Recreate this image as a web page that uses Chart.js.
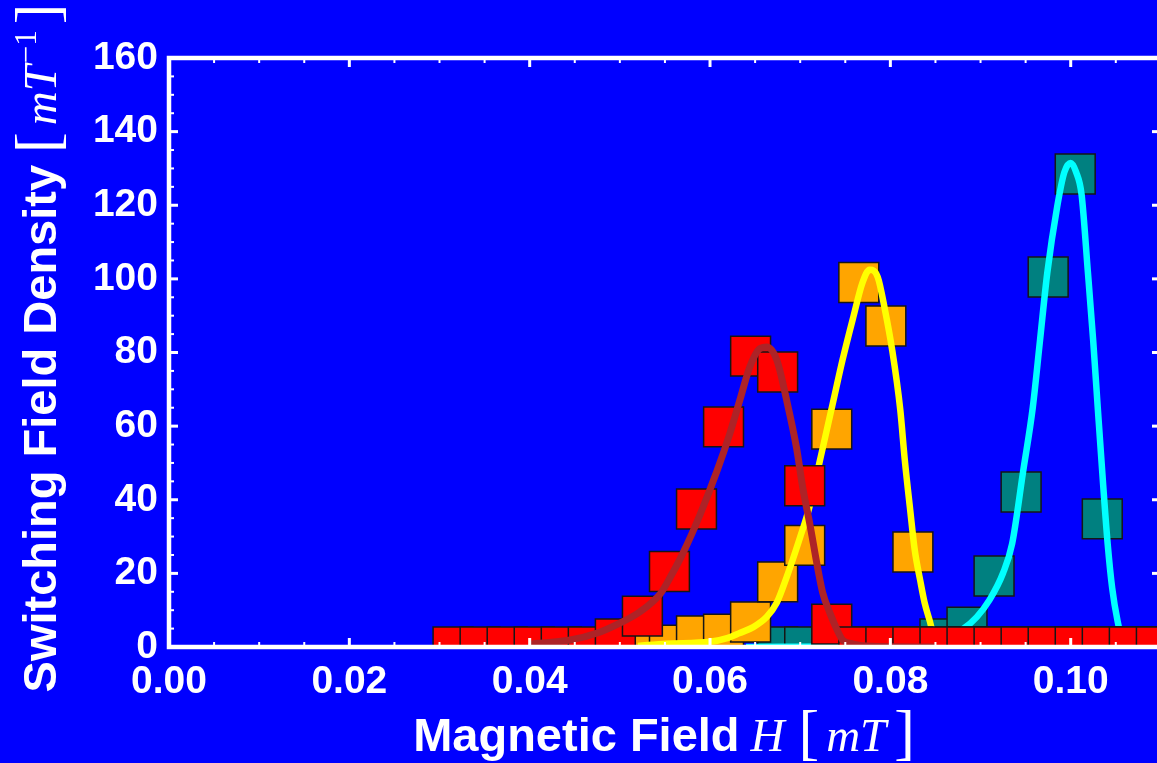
<!DOCTYPE html>
<html>
<head>
<meta charset="utf-8">
<title>Switching field density</title>
<script src="https://cdn.jsdelivr.net/npm/chart.js@4.4.1/dist/chart.umd.min.js"></script>
<style>
  html, body { margin: 0; padding: 0; background: #0000ff; overflow: hidden; }
  #wrap { width: 1157px; height: 763px; }
</style>
</head>
<body>
<div id="wrap"><canvas id="sfd" width="1157" height="763"></canvas></div>
<script>
// histogram bin centres (mT), shared by all three samples
const binH = [0.0315, 0.0345, 0.0375, 0.0405, 0.0435, 0.0465, 0.0495, 0.0525, 0.0555,
              0.0585, 0.0615, 0.0645, 0.0675, 0.0705, 0.0735, 0.0765, 0.0795, 0.0825,
              0.0855, 0.0885, 0.0915, 0.0945, 0.0975, 0.1005, 0.1035, 0.1065, 0.1095];

// measured switching field density per bin (null = no bin for that sample)
const redDensity    = [0, 0, 0, 0, 0, 0, 2.2, 8.4, 20.5, 37.5, 59.8, 79, 74.7, 43.8, 6.2,
                       0, 0, 0, 0, 0, 0, 0, 0, 0, 0, 0, 0];
const orangeDensity = [null, null, null, null, null, null, null, 0, 0.5, 3, 3.5, 6.8, 17.7,
                       27.6, 59.2, 99, 87.2, 25.8, 0, 0, 0, 0, 0, 0, 0, 0, 0];
const tealDensity   = [null, null, null, null, null, null, null, null, null, null, null, null,
                       0, 0, 0, 0, 0, 0, 2.2, 5.4, 19.3, 42.1, 100.5, 128.5, 34.8, 0, 0];

// fitted distributions
const redFitH = [0.0400, 0.0445, 0.0475, 0.0500, 0.0522, 0.0545, 0.0556, 0.0570, 0.0589, 0.0608,
                 0.0622, 0.0633, 0.0644, 0.0655, 0.0663, 0.0674, 0.0685, 0.0696, 0.0703, 0.0711,
                 0.0719, 0.0725, 0.0733, 0.0741, 0.0747, 0.0759, 0.0780, 0.0850];
const redFitD = [0.8, 1.9, 3.8, 6.5, 9.5, 14.5, 19, 25.5, 36, 48, 58, 67, 76, 81, 81.5, 78, 67,
                 54, 43, 33, 22, 14.7, 9.2, 4.6, 1.9, 0.8, 0.2, 0];

const orangeFitH = [0.0520, 0.0552, 0.0600, 0.0619, 0.0633, 0.0648, 0.0663, 0.0674, 0.0685, 0.0700,
                    0.0710, 0.0722, 0.0736, 0.0747, 0.0759, 0.0769, 0.0777, 0.0786, 0.0794, 0.0802,
                    0.0811, 0.0816, 0.0822, 0.0827, 0.0833, 0.0838, 0.0844, 0.0849, 0.0855, 0.0900];
const orangeFitD = [0.3, 0.9, 1.4, 2.4, 3.8, 5.4, 8.2, 12, 19, 29.9, 37.8, 50.8, 66, 78, 89.7, 98.9,
                    102.5, 100.5, 91.6, 80.7, 64.4, 50.8, 37.2, 26.4, 18.2, 12, 6.8, 1.9, 0.3, 0];

const tealFitH = [0.0640, 0.0750, 0.0820, 0.0860, 0.0881, 0.0896, 0.0910, 0.0925, 0.0935, 0.0947,
                  0.0958, 0.0966, 0.0974, 0.0985, 0.0993, 0.1000, 0.1006, 0.1012, 0.1019, 0.1025,
                  0.1030, 0.1036, 0.1041, 0.1046, 0.1052, 0.1057, 0.1062, 0.1075];
const tealFitD = [0, 0.3, 1, 2.5, 5, 8.2, 12.8, 20.1, 28, 47.3, 65.2, 83.4, 101.6, 119.6, 129,
                  131.5, 129, 123, 102, 83, 65, 44, 28, 16, 7, 2, 0.5, 0];

const xTickValues = [0, 0.02, 0.04, 0.06, 0.08, 0.10];
const xTickLabels = ['0.00', '0.02', '0.04', '0.06', '0.08', '0.10'];
const yTickValues = [0, 20, 40, 60, 80, 100, 120, 140, 160];
const yTickLabels = ['0', '20', '40', '60', '80', '100', '120', '140', '160'];

const SANS = '"Liberation Sans", Arial, sans-serif';
const SERIF = '"Liberation Serif", "Times New Roman", serif';

function points(xs, ys) {
    const out = [];
    xs.forEach((x, i) => { if (ys[i] !== null) out.push({ x: x, y: ys[i] }); });
    return out;
}

function histogram(label, xs, ys, color, order) {
    return {
        label: label,
        data: points(xs, ys),
        order: order,
        showLine: false,
        pointStyle: 'rect',
        pointRadius: 28.2,
        pointHoverRadius: 28.2,
        pointBackgroundColor: color,
        pointBorderColor: '#161616',
        pointBorderWidth: 1.5,
        clip: 0
    };
}

function fit(label, xs, ys, color, width, order) {
    return {
        label: label,
        data: points(xs, ys),
        order: order,
        showLine: true,
        borderColor: color,
        borderWidth: width,
        pointRadius: 0,
        pointHoverRadius: 0,
        cubicInterpolationMode: 'monotone',
        fill: false,
        clip: 0
    };
}

// blue page background
const background = {
    id: 'background',
    beforeDraw(chart) {
        const ctx = chart.ctx;
        ctx.save();
        ctx.fillStyle = '#0000ff';
        ctx.fillRect(0, 0, chart.width, chart.height);
        ctx.restore();
    }
};

// white frame with inward ticks, drawn over the data
const frame = {
    id: 'frame',
    afterDatasetsDraw(chart) {
        const { ctx, chartArea: a, scales: { x, y } } = chart;
        ctx.save();
        ctx.strokeStyle = '#ffffff';
        ctx.lineCap = 'butt';

        const seg = (x1, y1, x2, y2, w) => {
            ctx.lineWidth = w;
            ctx.beginPath();
            ctx.moveTo(x1, y1);
            ctx.lineTo(x2, y2);
            ctx.stroke();
        };

        for (let k = 0; k * 0.005 <= x.max + 1e-9; k++) {
            const px = x.getPixelForValue(k * 0.005);
            const major = k % 4 === 0;
            const len = major ? 9 : 5;
            seg(px, a.bottom, px, a.bottom - len, major ? 3 : 2);
            seg(px, a.top, px, a.top + len, major ? 3 : 2);
        }
        for (let k = 0; k * 5 <= 160; k++) {
            const py = y.getPixelForValue(k * 5);
            const major = k % 4 === 0;
            const len = major ? 9 : 5;
            seg(a.left, py, a.left + len, py, major ? 3 : 2);
            if (major) seg(a.right + 2, py, a.right - 5, py, 3);
        }

        ctx.lineWidth = 4.5;
        ctx.beginPath();
        ctx.moveTo(a.right + 5, a.top);
        ctx.lineTo(a.left, a.top);
        ctx.lineTo(a.left, a.bottom);
        ctx.lineTo(a.right + 5, a.bottom);
        ctx.stroke();
        ctx.restore();
    }
};

// axis titles: bold sans words followed by serif math
function measureParts(ctx, parts) {
    let w = 0;
    parts.forEach(p => { ctx.font = p.font; w += ctx.measureText(p.text).width + (p.gap || 0); });
    return w;
}

function drawParts(ctx, parts, x0, baseline) {
    let x = x0;
    parts.forEach(p => {
        ctx.font = p.font;
        ctx.fillText(p.text, x, baseline + (p.dy || 0));
        x += ctx.measureText(p.text).width + (p.gap || 0);
    });
}

const titles = {
    id: 'titles',
    afterDraw(chart) {
        const { ctx } = chart;
        ctx.save();
        ctx.fillStyle = '#ffffff';
        ctx.textAlign = 'left';
        ctx.textBaseline = 'alphabetic';

        const xParts = [
            { text: 'Magnetic Field', font: 'bold 47px ' + SANS, gap: 11 },
            { text: 'H', font: 'italic 47px ' + SERIF, gap: 14 },
            { text: '[', font: '62px ' + SERIF, dy: 2, gap: 7 },
            { text: 'mT', font: 'italic 47px ' + SERIF, gap: 8 },
            { text: ']', font: '62px ' + SERIF, dy: 2 }
        ];
        const xw = measureParts(ctx, xParts);
        drawParts(ctx, xParts, 664 - xw / 2, 751);

        const yParts = [
            { text: 'Switching Field Density', font: 'bold 47px ' + SANS, gap: 12 },
            { text: '[', font: '62px ' + SERIF, dy: 2, gap: 7 },
            { text: 'mT', font: 'italic 47px ' + SERIF, gap: 2 },
            { text: '\u22121', font: '31px ' + SERIF, dy: -20, gap: 6 },
            { text: ']', font: '62px ' + SERIF, dy: 2 }
        ];
        const yw = measureParts(ctx, yParts);
        ctx.translate(56, 348);
        ctx.rotate(-Math.PI / 2);
        drawParts(ctx, yParts, -yw / 2, 0);
        ctx.restore();
    }
};

const tickFont = { family: SANS, size: 39, weight: 'bold' };

new Chart(document.getElementById('sfd'), {
    type: 'scatter',
    data: {
        datasets: [
            fit('fit 1', redFitH, redFitD, '#ad2327', 7, 0),
            histogram('sample 1', binH, redDensity, '#ff0000', 1),
            fit('fit 2', orangeFitH, orangeFitD, '#ffff00', 6.5, 2),
            histogram('sample 2', binH, orangeDensity, '#ffa500', 3),
            fit('fit 3', tealFitH, tealFitD, '#00ffff', 6.5, 4),
            histogram('sample 3', binH, tealDensity, '#008080', 5)
        ]
    },
    options: {
        responsive: false,
        animation: false,
        events: [],
        layout: { autoPadding: false, padding: { top: 58, right: 0, bottom: 0, left: 0 } },
        plugins: {
            legend: { display: false },
            tooltip: { enabled: false }
        },
        scales: {
            x: {
                type: 'linear',
                min: 0,
                max: 0.10957,
                afterBuildTicks: s => { s.ticks = xTickValues.map(v => ({ value: v })); },
                afterFit: s => { s.height = 116; s.paddingLeft = 0; s.paddingRight = 0; },
                grid: { display: false, drawTicks: false },
                border: { display: false },
                ticks: {
                    color: '#ffffff',
                    font: tickFont,
                    padding: 12,
                    maxRotation: 0,
                    autoSkip: false,
                    callback: (v, i) => xTickLabels[i]
                }
            },
            y: {
                type: 'linear',
                min: 0,
                max: 160,
                afterBuildTicks: s => { s.ticks = yTickValues.map(v => ({ value: v })); },
                afterFit: s => { s.width = 169; s.paddingTop = 0; s.paddingBottom = 0; },
                grid: { display: false, drawTicks: false },
                border: { display: false },
                ticks: {
                    color: '#ffffff',
                    font: tickFont,
                    padding: 11,
                    autoSkip: false,
                    callback: (v, i) => yTickLabels[i]
                }
            }
        }
    },
    plugins: [background, frame, titles]
});
</script>
</body>
</html>
